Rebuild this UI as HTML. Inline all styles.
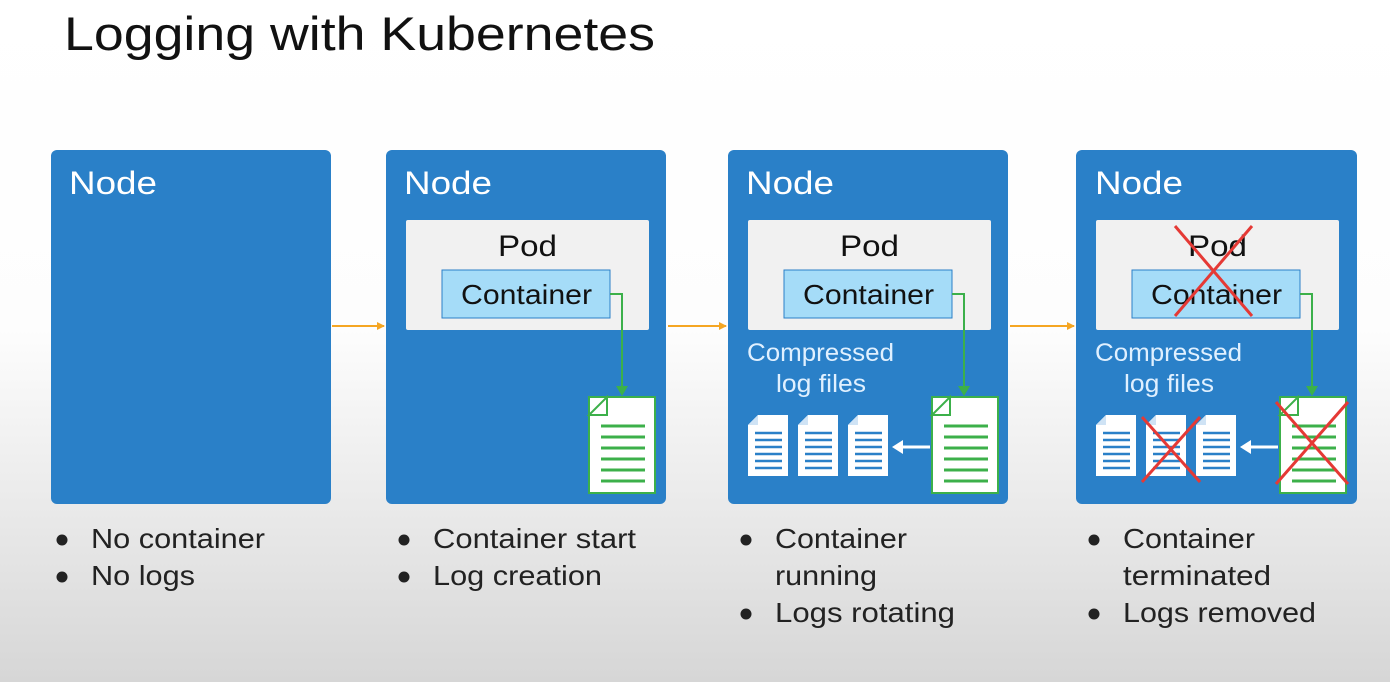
<!DOCTYPE html><html><head><style>
body{margin:0;width:1390px;height:682px;overflow:hidden;background:linear-gradient(#ffffff 0px,#fdfdfd 330px,#e4e4e4 560px,#d6d6d6 682px);font-family:"Liberation Sans",sans-serif}
</style></head><body>
<svg width="1390" height="682" xmlns="http://www.w3.org/2000/svg" font-family="Liberation Sans, sans-serif">
<defs>
<g id="bigdoc">
<path d="M0,0 H66 V96 H0 V18 Z" fill="#fff" stroke="#3cb04a" stroke-width="2"/>
<path d="M0,18 L18,0 V18 Z" fill="#fff" stroke="#3cb04a" stroke-width="2"/>
<g stroke="#3cb04a" stroke-width="3"><line x1="12" y1="29" x2="56" y2="29"/><line x1="12" y1="40" x2="56" y2="40"/><line x1="12" y1="51" x2="56" y2="51"/><line x1="12" y1="62" x2="56" y2="62"/><line x1="12" y1="73" x2="56" y2="73"/><line x1="12" y1="84" x2="56" y2="84"/></g>
</g>
<g id="smdoc">
<path d="M0,10 L10,0 H40 V61 H0 Z" fill="#fff"/>
<path d="M0,10 L10,0 V10 Z" fill="#cfe3f5"/>
<g stroke="#2a80c8" stroke-width="2.5"><line x1="7" y1="18" x2="34" y2="18"/><line x1="7" y1="25" x2="34" y2="25"/><line x1="7" y1="32" x2="34" y2="32"/><line x1="7" y1="39" x2="34" y2="39"/><line x1="7" y1="46" x2="34" y2="46"/><line x1="7" y1="53" x2="34" y2="53"/></g>
</g>
<marker id="og" markerWidth="8" markerHeight="8" refX="7" refY="4" orient="auto" markerUnits="userSpaceOnUse"><path d="M0,0 L8,4 L0,8 Z" fill="#f5a623"/></marker>
</defs>
<text x="64" y="50" font-size="47" fill="#111" textLength="591" lengthAdjust="spacingAndGlyphs">Logging with Kubernetes</text>

<g fill="#2a80c8">
<rect x="51" y="150" width="280" height="354" rx="6"/>
<rect x="386" y="150" width="280" height="354" rx="6"/>
<rect x="728" y="150" width="280" height="354" rx="6"/>
<rect x="1076" y="150" width="281" height="354" rx="6"/>
</g>
<g fill="#fff" font-size="32">
<text x="69" y="194" textLength="88" lengthAdjust="spacingAndGlyphs">Node</text><text x="404" y="194" textLength="88" lengthAdjust="spacingAndGlyphs">Node</text><text x="746" y="194" textLength="88" lengthAdjust="spacingAndGlyphs">Node</text><text x="1095" y="194" textLength="88" lengthAdjust="spacingAndGlyphs">Node</text>
</g>
<g stroke="#f5a623" stroke-width="2" marker-end="url(#og)">
<line x1="332" y1="326" x2="384" y2="326"/><line x1="668" y1="326" x2="726" y2="326"/><line x1="1010" y1="326" x2="1074" y2="326"/>
</g>

<!-- node2 -->
<rect x="406" y="220" width="243" height="110" rx="2" fill="#f1f1f1"/>
<text x="498" y="256" font-size="30" fill="#111" textLength="59" lengthAdjust="spacingAndGlyphs">Pod</text>
<rect x="442" y="270" width="168" height="48" fill="#a5dcf8" stroke="#2a80c8" stroke-width="1"/>
<text x="461" y="304" font-size="28" fill="#111" textLength="131" lengthAdjust="spacingAndGlyphs">Container</text>
<polyline points="610,294 622,294 622,390" fill="none" stroke="#3cb04a" stroke-width="2"/>
<path d="M616,386 L628,386 L622,396 Z" fill="#3cb04a"/>
<use href="#bigdoc" x="589" y="397"/>

<!-- node3 -->
<rect x="748" y="220" width="243" height="110" rx="2" fill="#f1f1f1"/>
<text x="840" y="256" font-size="30" fill="#111" textLength="59" lengthAdjust="spacingAndGlyphs">Pod</text>
<rect x="784" y="270" width="168" height="48" fill="#a5dcf8" stroke="#2a80c8" stroke-width="1"/>
<text x="803" y="304" font-size="28" fill="#111" textLength="131" lengthAdjust="spacingAndGlyphs">Container</text>
<polyline points="952,294 964,294 964,390" fill="none" stroke="#3cb04a" stroke-width="2"/>
<path d="M958,386 L970,386 L964,396 Z" fill="#3cb04a"/>
<use href="#bigdoc" x="932" y="397"/>
<text x="747" y="361" font-size="25" fill="#e0f0ff" textLength="147" lengthAdjust="spacingAndGlyphs">Compressed</text>
<text x="776" y="392" font-size="25" fill="#e0f0ff" textLength="90" lengthAdjust="spacingAndGlyphs">log files</text>
<use href="#smdoc" x="748" y="415"/><use href="#smdoc" x="798" y="415"/><use href="#smdoc" x="848" y="415"/>
<line x1="930" y1="447" x2="900" y2="447" stroke="#fff" stroke-width="3"/><path d="M903,440 L892,447 L903,454 Z" fill="#fff"/>

<!-- node4 -->
<rect x="1096" y="220" width="243" height="110" rx="2" fill="#f1f1f1"/>
<text x="1188" y="256" font-size="30" fill="#111" textLength="59" lengthAdjust="spacingAndGlyphs">Pod</text>
<rect x="1132" y="270" width="168" height="48" fill="#a5dcf8" stroke="#2a80c8" stroke-width="1"/>
<text x="1151" y="304" font-size="28" fill="#111" textLength="131" lengthAdjust="spacingAndGlyphs">Container</text>
<polyline points="1300,294 1312,294 1312,390" fill="none" stroke="#3cb04a" stroke-width="2"/>
<path d="M1306,386 L1318,386 L1312,396 Z" fill="#3cb04a"/>
<use href="#bigdoc" x="1280" y="397"/>
<text x="1095" y="361" font-size="25" fill="#e0f0ff" textLength="147" lengthAdjust="spacingAndGlyphs">Compressed</text>
<text x="1124" y="392" font-size="25" fill="#e0f0ff" textLength="90" lengthAdjust="spacingAndGlyphs">log files</text>
<use href="#smdoc" x="1096" y="415"/><use href="#smdoc" x="1146" y="415"/><use href="#smdoc" x="1196" y="415"/>
<line x1="1278" y1="447" x2="1248" y2="447" stroke="#fff" stroke-width="3"/><path d="M1251,440 L1240,447 L1251,454 Z" fill="#fff"/>
<g stroke="#e53935" stroke-width="3" fill="none">
<line x1="1175" y1="226" x2="1252" y2="316"/><line x1="1252" y1="226" x2="1175" y2="316"/>
<line x1="1142" y1="417" x2="1200" y2="482"/><line x1="1200" y1="417" x2="1142" y2="482"/>
<line x1="1276" y1="402" x2="1348" y2="484"/><line x1="1348" y1="402" x2="1276" y2="484"/>
</g>

<g fill="#222">
<circle cx="62" cy="540" r="5.5"/><circle cx="62" cy="577" r="5.5"/>
<circle cx="404" cy="540" r="5.5"/><circle cx="404" cy="577" r="5.5"/>
<circle cx="746" cy="540" r="5.5"/><circle cx="746" cy="614" r="5.5"/>
<circle cx="1094" cy="540" r="5.5"/><circle cx="1094" cy="614" r="5.5"/>
</g>
<g font-size="28" fill="#222" lengthAdjust="spacingAndGlyphs">
<text x="91" y="548" textLength="174" lengthAdjust="spacingAndGlyphs">No container</text>
<text x="91" y="585" textLength="104" lengthAdjust="spacingAndGlyphs">No logs</text>
<text x="433" y="548" textLength="203" lengthAdjust="spacingAndGlyphs">Container start</text>
<text x="433" y="585" textLength="169" lengthAdjust="spacingAndGlyphs">Log creation</text>
<text x="775" y="548" textLength="132" lengthAdjust="spacingAndGlyphs">Container</text>
<text x="775" y="585" textLength="102" lengthAdjust="spacingAndGlyphs">running</text>
<text x="775" y="622" textLength="180" lengthAdjust="spacingAndGlyphs">Logs rotating</text>
<text x="1123" y="548" textLength="132" lengthAdjust="spacingAndGlyphs">Container</text>
<text x="1123" y="585" textLength="148" lengthAdjust="spacingAndGlyphs">terminated</text>
<text x="1123" y="622" textLength="193" lengthAdjust="spacingAndGlyphs">Logs removed</text>
</g>
</svg>
</body></html>
